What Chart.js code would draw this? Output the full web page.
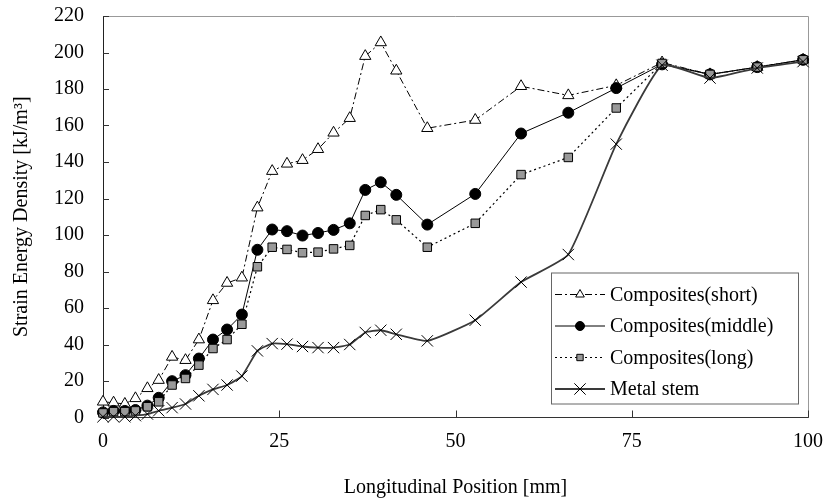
<!DOCTYPE html>
<html>
<head>
<meta charset="utf-8">
<script src="https://cdn.jsdelivr.net/npm/chart.js@4"></script>
<style>
  html, body { margin: 0; padding: 0; background: #fff; }
</style>
</head>
<body>
<canvas id="chart" width="827" height="502"></canvas>
<script>
// longitudinal positions [mm]
const positions = [0, 1.5, 3.1, 4.6, 6.3, 7.9, 9.8, 11.7, 13.6, 15.6, 17.6, 19.7, 21.9, 24, 26.1, 28.3,
    30.5, 32.7, 35, 37.2, 39.4, 41.6, 46, 52.8, 59.3, 66, 72.8, 79.3, 86.1, 92.8, 99.3];

// strain energy density [kJ/m3]
const shortValues = [8.6, 8.1, 7.4, 10.5, 16, 20.5, 33.2, 31.4, 42.7, 64.2, 73.7, 76.6, 115, 135, 139, 141,
    147, 156, 164, 198, 205.5, 190, 158.5, 163, 181.5, 176.5, 182, 194.5, 188, 192, 196];
const middleValues = [2.8, 3.6, 3.6, 4.1, 6.5, 10.8, 19.9, 23.2, 32.3, 42.7, 48.2, 56.4, 91.9, 103, 102.1, 99.7,
    101.1, 102.8, 106.4, 124.7, 128.9, 122, 105.7, 122.5, 155.6, 167, 180.5, 193.5, 188, 192, 196];
const longValues = [2.5, 3.2, 3.2, 3.6, 5.9, 8.6, 17.8, 21.4, 28.7, 37.8, 42.7, 51.1, 82.6, 93.3, 92.1, 90.3,
    90.6, 92.4, 94.3, 110.7, 113.9, 108.3, 93.3, 106.4, 133.1, 142.5, 169.6, 194, 188, 192, 196];
const metalValues = [0.4, 0.4, 0.4, 1, 1.9, 3.7, 5.4, 7.4, 11.9, 15.4, 17.8, 22.7, 36.5, 40.5, 40.2, 38.9,
    38.3, 38.3, 40, 46.6, 47.8, 45.6, 42, 53.3, 74.2, 89.3, 149.8, 193, 186, 191.5, 195];

const seriesLabels = ['Composites(short)', 'Composites(middle)', 'Composites(long)', 'Metal stem'];
const xTicks = [0, 25, 50, 75, 100];
const yTicks = [0, 20, 40, 60, 80, 100, 120, 140, 160, 180, 200, 220];

const FONT = "'Liberation Serif', 'Times New Roman', serif";

function toPoints(values) {
    return values.map((v, i) => ({ x: positions[i], y: v }));
}

// ticks pointing into the plot, plus grey top/right frame
const framePlugin = {
    id: 'frame',
    beforeDatasetsDraw(chart) {
        const { ctx, chartArea: a, scales } = chart;
        ctx.save();
        ctx.lineWidth = 1;
        ctx.strokeStyle = '#999';
        ctx.beginPath();
        ctx.moveTo(a.left, a.top + 0.5);
        ctx.lineTo(a.right + 0.5, a.top + 0.5);
        ctx.lineTo(a.right + 0.5, a.bottom);
        ctx.stroke();

        ctx.strokeStyle = '#333';
        ctx.beginPath();
        yTicks.forEach(t => {
            const y = Math.round(scales.y.getPixelForValue(t)) + 0.5;
            ctx.moveTo(a.left, y);
            ctx.lineTo(a.left + 6, y);
        });
        xTicks.forEach(t => {
            const x = Math.round(scales.x.getPixelForValue(t)) + 0.5;
            ctx.moveTo(x, a.bottom);
            ctx.lineTo(x, a.bottom - 7);
        });
        ctx.stroke();
        ctx.restore();
    }
};

// legend box drawn inside the plot area
const boxLegend = {
    id: 'boxLegend',
    afterDatasetsDraw(chart) {
        const { ctx, chartArea: a } = chart;
        const w = 247, h = 131;
        const left = a.right - 10 - w;
        const top = a.bottom - 14 - h;
        ctx.save();
        ctx.fillStyle = '#fff';
        ctx.fillRect(left, top, w, h);
        ctx.strokeStyle = '#666';
        ctx.lineWidth = 1;
        ctx.strokeRect(left + 0.5, top + 0.5, w, h);

        ctx.font = '20px ' + FONT;
        ctx.textBaseline = 'middle';
        chart.data.datasets.forEach((ds, i) => {
            const y = top + 22 + i * 31.5;
            ctx.strokeStyle = ds.borderColor;
            ctx.lineWidth = ds.borderWidth;
            ctx.setLineDash(ds.borderDash || []);
            ctx.beginPath();
            ctx.moveTo(left + 4, y);
            ctx.lineTo(left + 54, y);
            ctx.stroke();
            ctx.setLineDash([]);
            ctx.fillStyle = ds.pointBackgroundColor;
            ctx.strokeStyle = ds.pointBorderColor;
            ctx.lineWidth = ds.pointBorderWidth;
            Chart.helpers.drawPoint(ctx, {
                pointStyle: ds.pointStyle,
                radius: ds.legendRadius,
                rotation: 0,
                borderWidth: ds.pointBorderWidth
            }, left + 29, y);
            ctx.fillStyle = '#000';
            ctx.fillText(ds.label, left + 59, y + 1);
        });
        ctx.restore();
    }
};

const chart = new Chart(document.getElementById('chart').getContext('2d'), {
    type: 'line',
    data: {
        datasets: [{
            label: seriesLabels[0],
            data: toPoints(shortValues),
            borderColor: '#000',
            borderWidth: 1,
            borderDash: [7, 3, 2, 3],
            pointStyle: 'triangle',
            pointRadius: 6.5,
            legendRadius: 5,
            pointBackgroundColor: '#fff',
            pointBorderColor: '#000',
            pointBorderWidth: 1,
            order: 3
        }, {
            label: seriesLabels[1],
            data: toPoints(middleValues),
            borderColor: '#000',
            borderWidth: 1,
            pointStyle: 'circle',
            pointRadius: 5.5,
            legendRadius: 4.5,
            pointBackgroundColor: '#000',
            pointBorderColor: '#000',
            pointBorderWidth: 1,
            order: 2
        }, {
            label: seriesLabels[2],
            data: toPoints(longValues),
            borderColor: '#000',
            borderWidth: 1.2,
            borderDash: [2, 3],
            pointStyle: 'rect',
            pointRadius: 6,
            legendRadius: 4.5,
            pointBackgroundColor: '#999',
            pointBorderColor: '#000',
            pointBorderWidth: 1,
            order: 1
        }, {
            label: seriesLabels[3],
            data: toPoints(metalValues),
            borderColor: '#3a3a3a',
            borderWidth: 1.8,
            tension: 0.15,
            pointStyle: 'crossRot',
            pointRadius: 8,
            legendRadius: 8,
            pointBackgroundColor: '#000',
            pointBorderColor: '#000',
            pointBorderWidth: 1,
            order: 0
        }]
    },
    options: {
        responsive: false,
        animation: false,
        clip: false,
        layout: { padding: { top: 16, right: 19, left: 0, bottom: 0 } },
        plugins: {
            legend: { display: false },
            tooltip: { enabled: false }
        },
        scales: {
            x: {
                type: 'linear',
                min: 0,
                max: 100,
                afterFit(scale) {
                    scale.height = 84.5;
                    scale.paddingLeft = 0;
                    scale.paddingRight = 0;
                },
                afterBuildTicks(scale) { scale.ticks = xTicks.map(v => ({ value: v })); },
                grid: { display: false, drawTicks: false },
                border: { display: true, color: '#333', width: 1 },
                ticks: { color: '#000', padding: 12, font: { family: FONT, size: 20 }, maxRotation: 0 },
                title: {
                    display: true,
                    text: 'Longitudinal Position [mm]',
                    color: '#000',
                    font: { family: FONT, size: 20 },
                    padding: { top: 0, bottom: 2 }
                }
            },
            y: {
                min: 0,
                max: 220,
                afterFit(scale) {
                    scale.width = 103;
                    scale.paddingTop = 0;
                    scale.paddingBottom = 0;
                },
                afterBuildTicks(scale) { scale.ticks = yTicks.map(v => ({ value: v })); },
                grid: { display: false, drawTicks: false },
                border: { display: true, color: '#222', width: 1 },
                ticks: { color: '#000', padding: 19, font: { family: FONT, size: 20 } },
                title: {
                    display: true,
                    text: 'Strain Energy Density [kJ/m³]',
                    color: '#000',
                    font: { family: FONT, size: 20 },
                    padding: { top: 10, bottom: 0 }
                }
            }
        }
    },
    plugins: [framePlugin, boxLegend]
});
</script>
</body>
</html>
